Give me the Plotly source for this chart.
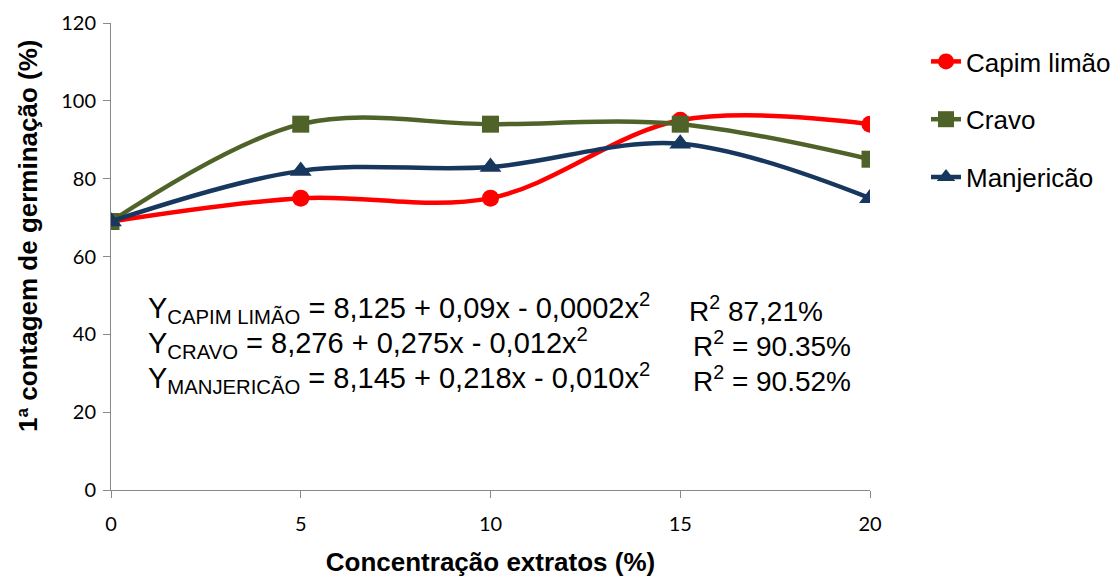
import plotly.graph_objects as go

x_vals = [0, 5, 10, 15, 20]
capim = [69, 75, 75, 95, 94]
cravo = [69, 94, 94, 94, 85]
manjericao = [69, 82, 83, 89, 75]

series_names = ["Capim limão", "Cravo", "Manjericão"]
colors = ["#FF0000", "#4F6228", "#17375E"]
symbols = ["circle", "square", "triangle-up"]
marker_sizes = [17, 17, 19]

eq_left = [
    "Y<sub>CAPIM LIMÃO</sub> = 8,125 + 0,09x - 0,0002x<sup>2</sup>",
    "Y<sub>CRAVO</sub> = 8,276 + 0,275x - 0,012x<sup>2</sup>",
    "Y<sub>MANJERICÃO</sub> = 8,145 + 0,218x - 0,010x<sup>2</sup>",
]
eq_right = [
    "R<sup>2</sup> 87,21%",
    "R<sup>2</sup> = 90.35%",
    "R<sup>2</sup> = 90.52%",
]

fig = go.Figure()
for i, (name, ys) in enumerate(zip(series_names, [capim, cravo, manjericao])):
    fig.add_trace(go.Scatter(
        x=x_vals, y=ys, name=name, mode="lines+markers",
        line=dict(color=colors[i], width=4.5, shape="spline", smoothing=1),
        marker=dict(color=colors[i], symbol=symbols[i], size=marker_sizes[i]),
        legendgroup=name,
    ))

W, H = 1120, 576
OFF = 8  # page body margin
l, r, t, b = 103, 258, 15, 94
pw = W - l - r
ph = H - t - b

def sx(px):  # screen px -> paper x
    return (px - OFF - l) / pw

def sy(py):  # screen px -> paper y
    return (H - b - (py - OFF)) / ph

line_y = [308, 343, 378]
right_x = [687, 691, 691]
for i in range(3):
    fig.add_annotation(
        text=eq_left[i], x=sx(146), y=sy(line_y[i]),
        xref="paper", yref="paper", xanchor="left", yanchor="middle",
        showarrow=False, font=dict(family="Liberation Sans", size=29, color="black"),
    )
    fig.add_annotation(
        text=eq_right[i], x=sx(right_x[i]), y=sy(line_y[i] + 1),
        xref="paper", yref="paper", xanchor="left", yanchor="middle",
        showarrow=False, font=dict(family="Liberation Sans", size=28, color="black"),
    )

# y axis title placed as rotated annotation (reference title sits above plot centre)
fig.add_annotation(
    text="<b>1ª contagem de germinação (%)</b>", x=sx(28), y=sy(236),
    xref="paper", yref="paper", xanchor="center", yanchor="middle", textangle=-90,
    showarrow=False, font=dict(family="Liberation Sans", size=26, color="black"),
)

axis_common = dict(
    showgrid=False, zeroline=False, showline=True, linecolor="#898989", linewidth=1,
    ticks="outside", tickcolor="#898989", ticklen=7, automargin=False,
    tickfont=dict(family="Lato", size=20, color="black"),
)

fig.update_layout(
    width=W, height=H,
    margin=dict(l=l, r=r, t=t, b=b),
    paper_bgcolor="white", plot_bgcolor="white",
    xaxis=dict(range=[0, 20], tickvals=[0, 5, 10, 15, 20], ticklabelstandoff=9,
               title=dict(text="<b>Concentração extratos (%)</b>",
                          font=dict(family="Liberation Sans", size=26, color="black"),
                          standoff=18),
               **axis_common),
    yaxis=dict(range=[0, 120], tickvals=[0, 20, 40, 60, 80, 100, 120], ticklabelstandoff=3,
               **axis_common),
    legend=dict(x=sx(926), y=sy(38), xanchor="left", yanchor="top",
                font=dict(family="Liberation Sans", size=26, color="black"),
                traceorder="grouped", tracegroupgap=21, bgcolor="rgba(0,0,0,0)"),
    showlegend=True,
)

fig.write_html("out.html")
